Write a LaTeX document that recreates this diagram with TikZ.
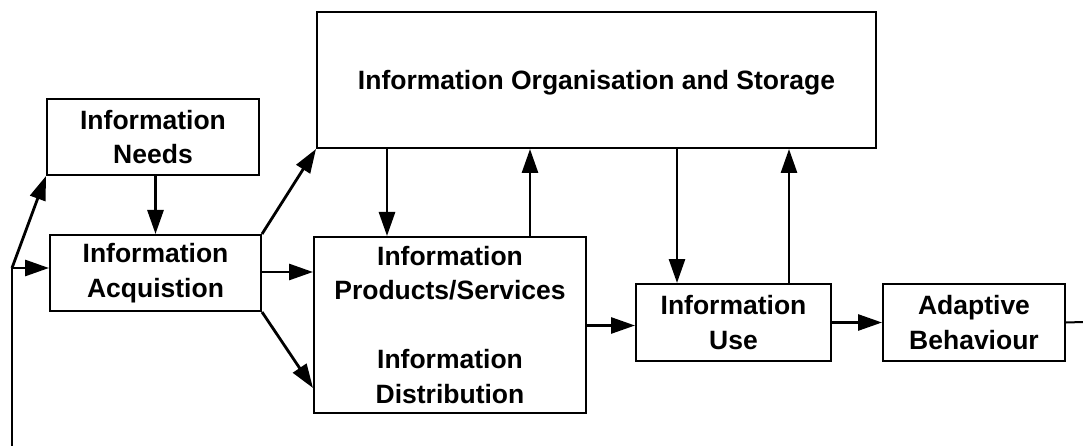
\documentclass[tikz,border=0pt]{standalone}
\usepackage{fontspec}
\setmainfont{Liberation Sans}
\usetikzlibrary{arrows.meta}
\begin{document}
\begin{tikzpicture}[x=1pt,y=-1pt,
  box/.style={draw, line width=2pt, inner sep=0pt, align=center,
    font=\fontsize{26.5}{34.5}\selectfont\bfseries},
  arr/.style={line width=2.8pt, -{Triangle[length=24pt,width=16pt]}},
  plain/.style={line width=2pt}]
\useasboundingbox (0,0) rectangle (1083,446);
\node[box, minimum width=212pt, minimum height=76pt] (needs) at (153,137) {Information\\Needs};
\node[box, minimum width=211pt, minimum height=76pt] (acq) at (155.5,273) {Information\\Acquistion};
\node[box, minimum width=559pt, minimum height=136pt] (store) at (596.5,80) {\raisebox{-3pt}[\height][\depth]{Information Organisation and Storage}};
\node[box, minimum width=272pt, minimum height=176pt] (prod) at (450,325) {Information\\Products/Services\\[34.5pt]Information\\Distribution};
\node[box, minimum width=195pt, minimum height=77pt] (use) at (733.5,322.5) {Information\\Use};
\node[box, minimum width=182pt, minimum height=77pt] (adapt) at (974,322.5) {Adaptive\\Behaviour};
\coordinate (fb) at (12,268);
\coordinate (fbend) at (12,446);
\coordinate (out) at (1083,322);
\coordinate (c1) at (387,0);
\coordinate (c2) at (530,0);
\coordinate (c3) at (677,0);
\coordinate (c4) at (789,0);
\draw[plain] (fbend) -- (fb);
\draw[arr] (fb) -- (fb -| acq.west);
\draw[arr] (fb) -- (needs.south west);
\draw[arr] (acq.north |- needs.south) -- (acq.north);
\draw[arr] (acq.north east) -- (store.south west);
\draw[arr] ([yshift=1pt]acq.east) -- ([yshift=1pt]acq.east -| prod.west);
\draw[arr] (acq.south east) -- ([yshift=26pt]prod.south west);
\draw[arr] (c1 |- store.south) -- (c1 |- prod.north);
\draw[arr] (c2 |- prod.north) -- (c2 |- store.south);
\draw[arr] (c3 |- store.south) -- (c3 |- use.north);
\draw[arr] (c4 |- use.north) -- (c4 |- store.south);
\draw[arr] ([yshift=-0.5pt]prod.east) -- ([yshift=-0.5pt]prod.east -| use.west);
\draw[arr] (use.east) -- (adapt.west);
\draw[plain] (adapt.east) -- (out);
\end{tikzpicture}
\end{document}
